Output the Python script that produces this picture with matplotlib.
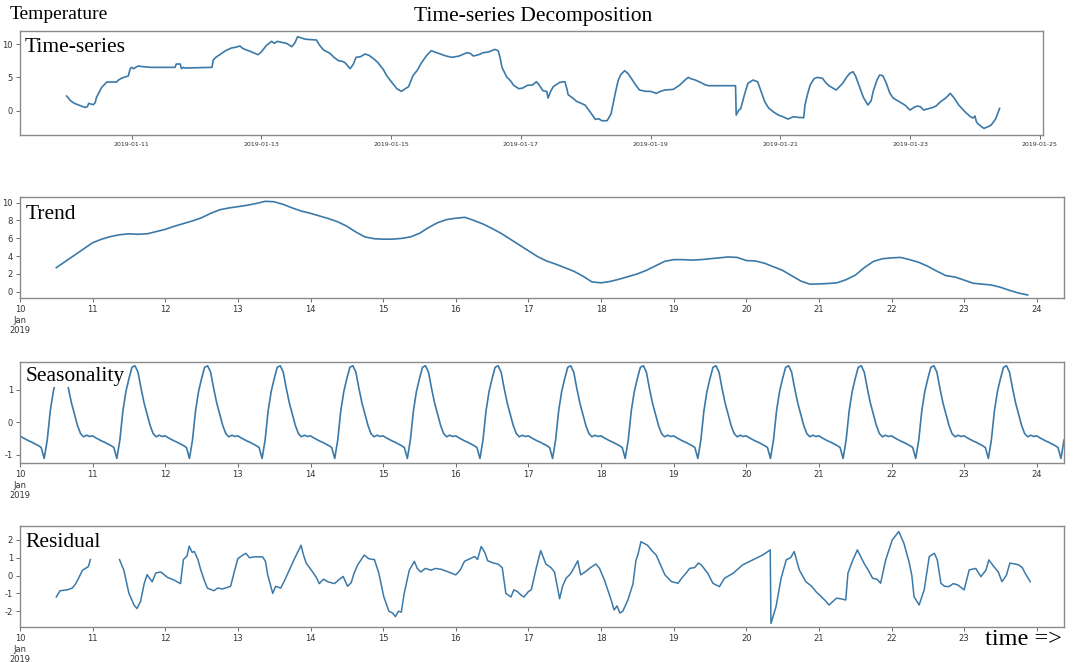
import numpy as np
import pandas as pd
import matplotlib.pyplot as plt
import matplotlib.dates as mdates
from matplotlib.ticker import FuncFormatter

nan = np.nan
plt.rcParams['axes.unicode_minus'] = False

# observed temperature: (day of Jan 2019, value) readings
obs_day = [10.00, 10.06, 10.12, 10.20, 10.28, 10.32, 10.34, 10.41, 10.44, 10.46,
           10.54, 10.62, 10.70, 10.77, 10.80, 10.85, 10.95, 10.98, 11.00, 11.03,
           11.10, 11.18, 11.30, 11.67, 11.69, 11.75, 11.77, 11.80, 11.82, 12.24,
           12.26, 12.30, 12.36, 12.45, 12.54, 12.60, 12.67, 12.72, 12.83, 12.95,
           13.00, 13.08, 13.16, 13.20, 13.25, 13.29, 13.39, 13.47, 13.52, 13.56,
           13.65, 13.70, 13.85, 13.90, 13.96, 14.06, 14.12, 14.19, 14.25, 14.29,
           14.37, 14.42, 14.46, 14.53, 14.60, 14.66, 14.73, 14.80, 14.83, 14.88,
           14.93, 15.00, 15.09, 15.16, 15.22, 15.27, 15.34, 15.40, 15.47, 15.55,
           15.62, 15.70, 15.76, 15.85, 15.94, 16.05, 16.17, 16.22, 16.27, 16.35,
           16.42, 16.50, 16.60, 16.65, 16.68, 16.71, 16.74, 16.78, 16.84, 16.89,
           16.97, 17.03, 17.10, 17.18, 17.24, 17.28, 17.34, 17.40, 17.42, 17.46,
           17.50, 17.60, 17.68, 17.71, 17.73, 17.80, 17.86, 17.99, 18.07, 18.15,
           18.20, 18.25, 18.33, 18.39, 18.46, 18.50, 18.54, 18.60, 18.65, 18.70,
           18.76, 18.83, 18.93, 19.00, 19.09, 19.15, 19.22, 19.35, 19.45, 19.52,
           19.58, 19.62, 19.69, 19.78, 19.85, 19.90, 20.31, 20.32, 20.36, 20.39,
           20.45, 20.50, 20.58, 20.65, 20.70, 20.76, 20.82, 20.89, 20.96, 21.04,
           21.12, 21.20, 21.28, 21.36, 21.38, 21.42, 21.46, 21.52, 21.57, 21.65,
           21.70, 21.75, 21.86, 21.92, 21.96, 22.02, 22.07, 22.12, 22.16, 22.22,
           22.28, 22.35, 22.40, 22.43, 22.49, 22.53, 22.58, 22.63, 22.69, 22.74,
           22.79, 22.86, 22.92, 23.00, 23.06, 23.11, 23.16, 23.21, 23.28, 23.34,
           23.40, 23.47, 23.55, 23.62, 23.68, 23.75, 23.85, 23.93, 23.97, 24.00,
           24.02, 24.04, 24.10, 24.14, 24.20, 24.25, 24.32, 24.38]
obs_val = [2.2, 1.5, 1.1, 0.8, 0.5, 0.6, 1.1, 0.9, 1.2, 2.0,
           3.5, 4.3, 4.3, 4.3, 4.6, 4.9, 5.2, 6.3, 6.5, 6.3,
           6.7, 6.6, 6.5, 6.5, 7.0, 7.0, 6.3, 6.5, 6.4, 6.5,
           7.6, 8.0, 8.4, 9.0, 9.4, 9.5, 9.7, 9.3, 8.9, 8.4,
           8.8, 9.8, 10.4, 10.1, 10.4, 10.3, 10.1, 9.6, 10.2, 11.1,
           10.8, 10.7, 10.6, 9.8, 9.1, 8.6, 8.0, 7.5, 7.4, 7.2,
           6.3, 7.0, 8.0, 8.1, 8.5, 8.3, 7.8, 7.2, 6.8, 6.2,
           5.3, 4.4, 3.3, 2.9, 3.3, 3.6, 5.3, 6.0, 7.2, 8.3,
           9.0, 8.7, 8.5, 8.2, 8.0, 8.2, 8.7, 8.6, 8.2, 8.4,
           8.7, 8.8, 9.2, 9.0, 8.0, 6.5, 5.9, 5.1, 4.5, 3.8,
           3.3, 3.4, 3.8, 3.85, 4.35, 3.9, 3.0, 2.9, 1.9, 2.9,
           3.6, 4.25, 4.35, 3.3, 2.4, 1.9, 1.4, 0.85, -0.2, -1.3,
           -1.2, -1.5, -1.5, -0.5, 2.8, 4.5, 5.4, 6.0, 5.6, 4.9,
           4.0, 3.1, 2.9, 2.9, 2.6, 2.9, 3.1, 3.2, 3.85, 4.5,
           5.0, 4.8, 4.6, 4.2, 3.85, 3.75, 3.75, -0.65, 0.1, 0.3,
           2.5, 4.1, 4.6, 4.35, 3.0, 1.35, 0.4, -0.15, -0.6, -0.9,
           -1.25, -0.9, -1.0, -1.05, 0.85, 2.5, 3.85, 4.8, 5.0, 4.85,
           4.2, 3.75, 3.1, 3.7, 4.1, 5.0, 5.6, 5.85, 5.2, 3.6,
           2.0, 0.85, 1.5, 2.85, 4.6, 5.35, 5.25, 4.2, 2.6, 1.9,
           1.6, 1.2, 0.85, 0.1, 0.5, 0.7, 0.6, 0.1, 0.3, 0.45,
           0.7, 1.35, 1.9, 2.6, 1.9, 0.85, -0.2, -0.9, -1.1, -0.8,
           -1.6, -1.9, -2.4, -2.65, -2.4, -2.15, -1.2, 0.35]

# trend, 3-hourly from 2019-01-10 00:00 to 2019-01-24 09:00
trend = [
    nan, nan, nan, nan, 2.7, 3.4, 4.1, 4.8,
    5.5, 5.9, 6.2, 6.4, 6.5, 6.45, 6.5, 6.75,
    7.0, 7.35, 7.65, 7.95, 8.3, 8.8, 9.2, 9.4,
    9.55, 9.7, 9.9, 10.15, 10.1, 9.8, 9.4, 9.05,
    8.8, 8.5, 8.2, 7.85, 7.35, 6.7, 6.15, 5.95,
    5.9, 5.9, 5.98, 6.15, 6.55, 7.2, 7.75, 8.1,
    8.25, 8.35, 8.0, 7.6, 7.1, 6.55, 5.9, 5.25,
    4.6, 3.95, 3.45, 3.1, 2.7, 2.3, 1.75, 1.1,
    1.0, 1.15, 1.4, 1.7, 2.0, 2.4, 2.9, 3.4,
    3.6, 3.6, 3.55, 3.6, 3.7, 3.8, 3.9, 3.85,
    3.5, 3.45, 3.2, 2.8, 2.4, 1.8, 1.2, 0.85,
    0.87, 0.92, 1.0, 1.35, 1.85, 2.7, 3.4, 3.7,
    3.8, 3.85, 3.6, 3.3, 2.85, 2.3, 1.8, 1.65,
    1.3, 0.95, 0.85, 0.75, 0.5, 0.15, -0.15, -0.37,
    nan, nan, nan, nan,
]

# hourly seasonal profile (00:00 .. 23:00), same every day
season_day = [-0.42, -0.48, -0.53, -0.58, -0.62, -0.67, -0.72, -0.78,
              -1.12, -0.55, 0.35, 0.95, 1.35, 1.70, 1.75, 1.55,
              1.05, 0.60, 0.25, -0.10, -0.35, -0.45, -0.40, -0.44]

# residual: (day of Jan 2019, value) readings, nan marks the gap
res_day = [10.50, 10.55, 10.65, 10.72, 10.76, 10.80, 10.83, 10.86, 10.90, 10.94,
           10.97, 11.10, 11.37, 11.43, 11.50, 11.57, 11.61, 11.66, 11.71, 11.75,
           11.82, 11.87, 11.94, 12.03, 12.12, 12.21, 12.25, 12.30, 12.33, 12.37,
           12.40, 12.45, 12.49, 12.54, 12.58, 12.67, 12.72, 12.79, 12.90, 12.95,
           13.00, 13.05, 13.11, 13.16, 13.23, 13.34, 13.38, 13.41, 13.48, 13.52,
           13.59, 13.64, 13.69, 13.78, 13.87, 13.90, 13.94, 14.03, 14.08, 14.12,
           14.18, 14.24, 14.33, 14.40, 14.45, 14.51, 14.56, 14.60, 14.65, 14.74,
           14.80, 14.86, 14.88, 14.94, 15.01, 15.08, 15.13, 15.17, 15.21, 15.25,
           15.29, 15.36, 15.43, 15.47, 15.52, 15.58, 15.66, 15.72, 15.80, 15.90,
           16.00, 16.06, 16.12, 16.26, 16.30, 16.35, 16.40, 16.44, 16.52, 16.58,
           16.64, 16.69, 16.76, 16.80, 16.85, 16.90, 16.94, 17.00, 17.04, 17.11,
           17.17, 17.24, 17.31, 17.36, 17.43, 17.47, 17.52, 17.58, 17.63, 17.68,
           17.72, 17.78, 17.84, 17.93, 17.98, 18.05, 18.14, 18.18, 18.22, 18.26,
           18.30, 18.37, 18.44, 18.48, 18.51, 18.55, 18.64, 18.70, 18.76, 18.82,
           18.88, 18.97, 19.06, 19.12, 19.17, 19.22, 19.29, 19.34, 19.38, 19.47,
           19.54, 19.63, 19.70, 19.82, 19.95, 20.09, 20.23, 20.33, 20.34, 20.41,
           20.48, 20.55, 20.61, 20.66, 20.73, 20.82, 20.90, 20.96, 21.08, 21.14,
           21.24, 21.30, 21.37, 21.40, 21.46, 21.53, 21.62, 21.68, 21.74, 21.80,
           21.85, 21.92, 22.01, 22.10, 22.17, 22.24, 22.28, 22.31, 22.38, 22.45,
           22.52, 22.59, 22.63, 22.68, 22.73, 22.79, 22.85, 22.91, 23.00, 23.07,
           23.16, 23.23, 23.30, 23.34, 23.41, 23.47, 23.52, 23.58, 23.63, 23.70,
           23.75, 23.80, 23.84, 23.91]
res_val = [-1.2, -0.85, -0.8, -0.7, -0.5, -0.2, 0.05, 0.3, 0.4, 0.5,
           0.9, nan, 0.9, 0.3, -1.0, -1.65, -1.85, -1.45, -0.45, 0.05,
           -0.35, 0.15, 0.2, -0.1, -0.25, -0.45, 0.9, 1.1, 1.65, 1.3,
           1.35, 0.9, 0.3, -0.3, -0.7, -0.85, -0.7, -0.75, -0.6, 0.2,
           0.95, 1.1, 1.25, 1.0, 1.05, 1.05, 0.8, 0.05, -1.0, -0.6,
           -0.7, -0.3, 0.15, 0.95, 1.7, 1.2, 0.7, 0.2, -0.1, -0.45,
           -0.2, -0.35, -0.45, -0.2, -0.05, -0.6, -0.4, 0.13, 0.6, 1.15,
           0.95, 0.9, 0.9, 0.15, -1.2, -2.0, -2.1, -2.3, -2.0, -2.05,
           -1.0, 0.3, 0.8, 0.4, 0.2, 0.4, 0.3, 0.4, 0.35, 0.2,
           0.04, 0.3, 0.8, 1.07, 0.9, 1.63, 1.3, 0.83, 0.7, 0.65,
           0.45, -1.0, -1.2, -0.8, -0.9, -1.1, -1.2, -0.9, -0.8, 0.45,
           1.4, 0.65, 0.45, 0.2, -1.3, -0.6, -0.15, 0.1, 0.45, 0.83,
           0.04, 0.2, 0.4, 0.65, 0.4, -0.28, -1.37, -1.93, -1.7, -2.1,
           -2.0, -1.37, -0.47, 0.83, 1.2, 1.9, 1.7, 1.4, 1.15, 0.6,
           0.04, -0.34, -0.43, -0.1, 0.13, 0.4, 0.45, 0.7, 0.6, 0.13,
           -0.43, -0.62, -0.15, 0.13, 0.6, 0.88, 1.16, 1.44, -2.68, -1.74,
           -0.15, 0.88, 1.0, 1.35, 0.32, -0.34, -0.6, -0.9, -1.37, -1.65,
           -1.27, -1.3, -1.37, 0.13, 0.8, 1.44, 0.7, 0.3, -0.15, -0.2,
           -0.43, 0.88, 2.0, 2.47, 1.82, 0.79, 0.0, -1.18, -1.65, -0.8,
           1.07, 1.25, 0.88, -0.43, -0.6, -0.62, -0.45, -0.52, -0.8, 0.32,
           0.4, -0.06, 0.3, 0.88, 0.5, 0.2, -0.34, 0.0, 0.7, 0.65,
           0.6, 0.45, 0.13, -0.34]


def to_time(days):
    return pd.Timestamp('2019-01-01') + pd.to_timedelta(np.asarray(days) - 1, unit='D')


t_obs = to_time(obs_day)
t_res = to_time(res_day)
t3 = pd.date_range('2019-01-10 00:00', periods=len(trend), freq='3h')
t1 = pd.date_range('2019-01-10 00:00', '2019-01-24 09:00', freq='1h')
seasonal = np.resize(season_day, len(t1))

line_color = '#3b79a8'
spine_color = '#8a8a8a'
serif = ['Liberation Serif', 'DejaVu Serif']

fig = plt.figure(figsize=(10.77, 6.62), dpi=100)


def style(ax):
    for s in ax.spines.values():
        s.set_color(spine_color)
        s.set_linewidth(1.0)
    ax.tick_params(length=3, width=0.6, color='#555555', labelsize=6, labelcolor='#333333', pad=2)


def day_label(x, pos):
    d = mdates.num2date(x)
    if d.day == 10:
        return '10\nJan\n2019'
    return str(d.day)


def day_label_resid(x, pos):
    # the last day label sits under the "time =>" note
    if mdates.num2date(x).day == 24:
        return ''
    return day_label(x, pos)


def label(ax, text, y):
    ax.text(0.005, y, text, transform=ax.transAxes, va='top', ha='left',
            family=serif, fontsize=15.5, zorder=5,
            bbox=dict(facecolor='white', edgecolor='none', pad=1))


# Time-series
ax1 = fig.add_axes([20/1077, 1-135/662, 1023/1077, 104/662])
ax1.plot(t_obs, obs_val, color=line_color, lw=1.2)
ax1.set_xlim(pd.Timestamp('2019-01-09 06:45'), pd.Timestamp('2019-01-25 01:10'))
ax1.set_ylim(-3.64, 11.95)
ax1.set_yticks([0, 5, 10])
ax1.xaxis.set_major_locator(mdates.DayLocator(bymonthday=range(11, 26, 2)))
ax1.xaxis.set_major_formatter(mdates.DateFormatter('%Y-%m-%d'))
style(ax1)
ax1.tick_params(axis='x', labelsize=4.5)
label(ax1, 'Time-series', 0.93)

bottom_axes = []
for top, bot in [(197.3, 298.3), (361.7, 463.3), (526, 627.3)]:
    ax = fig.add_axes([20/1077, 1-bot/662, 1044/1077, (bot-top)/662])
    bottom_axes.append(ax)
ax2, ax3, ax4 = bottom_axes

ax2.plot(t3, trend, color=line_color, lw=1.2)
ax2.set_ylim(-0.74, 10.6)
ax2.set_yticks([0, 2, 4, 6, 8, 10])
label(ax2, 'Trend', 0.92)

ax3.plot(t1, seasonal, color=line_color, lw=1.2)
ax3.set_ylim(-1.27, 1.875)
ax3.set_yticks([-1, 0, 1])
label(ax3, 'Seasonality', 0.95)

ax4.plot(t_res, res_val, color=line_color, lw=1.1)
ax4.set_ylim(-2.9, 2.78)
ax4.set_yticks([-2, -1, 0, 1, 2])
label(ax4, 'Residual', 0.93)

for ax in bottom_axes:
    ax.set_xlim(t1[0], t1[-1])
    ax.xaxis.set_major_locator(mdates.DayLocator())
    ax.xaxis.set_major_formatter(FuncFormatter(day_label))
    style(ax)
ax4.xaxis.set_major_formatter(FuncFormatter(day_label_resid))

fig.text(10/1077, 1-6/662, 'Temperature', family=serif, fontsize=14, va='top', ha='left')
fig.text(533/1077, 1-7/662, 'Time-series Decomposition', family=serif, fontsize=15.5, va='top', ha='center')
fig.text(985/1077, 1-629/662, 'time =>', family=serif, fontsize=17.5, va='top', ha='left')

fig.savefig('out.png', dpi=100)
